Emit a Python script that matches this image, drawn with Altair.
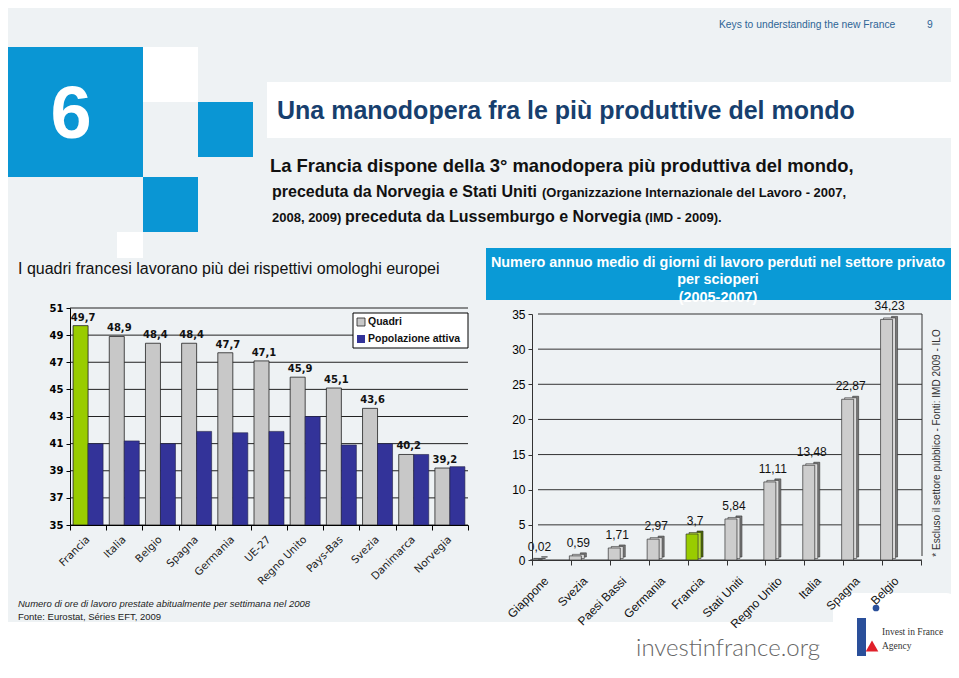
import altair as alt
import pandas as pd

# ---------------- data ----------------
left_cats = ["Francia", "Italia", "Belgio", "Spagna", "Germania", "UE-27",
             "Regno Unito", "Pays-Bas", "Svezia", "Danimarca", "Norvegia"]
quadri = [49.7, 48.9, 48.4, 48.4, 47.7, 47.1, 45.9, 45.1, 43.6, 40.2, 39.2]
popolazione = [41.0, 41.2, 41.0, 41.9, 41.8, 41.9, 43.0, 40.9, 41.0, 40.2, 39.3]
left_ticks = [35, 37, 39, 41, 43, 45, 47, 49, 51]

right_cats = ["Giappone", "Svezia", "Paesi Bassi", "Germania", "Francia",
              "Stati Uniti", "Regno Unito", "Italia", "Spagna", "Belgio"]
giorni = [0.02, 0.59, 1.71, 2.97, 3.7, 5.84, 11.11, 13.48, 22.87, 34.23]
right_ticks = [0, 5, 10, 15, 20, 25, 30, 35]

W, H = 943, 662
OX, OY = 8, 8  # page margin


def px(x):
    return x - OX


def py(y):
    return y - OY


dfL = pd.DataFrame({"cat": left_cats, "q": quadri, "p": popolazione,
                    "lab": [str(v).replace(".", ",") for v in quadri]})
dfR = pd.DataFrame({"cat": right_cats, "v": giorni,
                    "lab": [str(v).replace(".", ",") for v in giorni]})
gL = pd.DataFrame({"q": left_ticks})
gR = pd.DataFrame({"v": right_ticks})
one = pd.DataFrame({"k": [0]})

SANS = "Liberation Sans, Arial, sans-serif"
VERD = "DejaVu Sans, Verdana, sans-serif"
BLUE = "#0a96d4"
GREEN = "#99cc00"

base = alt.Chart(one)


def rect(x1, x2, y1, y2, color, **kw):
    return base.mark_rect(color=color, **kw).encode(
        x=alt.value(px(x1)), x2=alt.value(px(x2)),
        y=alt.value(py(y1)), y2=alt.value(py(y2)))


def txt(s, x, y, size, color="#111111", font=SANS, weight="normal",
        align="left", baseline="alphabetic", **kw):
    return base.mark_text(text=s, fontSize=size, color=color, font=font,
                          fontWeight=weight, align=align, baseline=baseline, **kw
                          ).encode(x=alt.value(px(x)), y=alt.value(py(y)))


decor = [
    rect(0, 960, 622, 680, "white"),
    rect(833, 960, 593, 680, "white", cornerRadius=14),
    rect(0, 143, 47, 177, BLUE),
    rect(143, 198, 47, 102, "white"),
    rect(198, 253, 102, 157, BLUE),
    rect(143, 198, 177, 232, BLUE),
    rect(117, 143, 232, 258, "white"),
    rect(267, 960, 82, 138, "white"),
    txt("6", 71, 116, 74, "white", SANS, "bold", "center", "middle"),
    txt("Keys to understanding the new France", 719, 28, 10.3, "#2f6596", SANS),
    txt("9", 927, 28, 10.3, "#2f6596", SANS),
    txt("Una manodopera fra le più produttive del mondo", 277, 119, 25,
        "#173f6e", SANS, "bold"),
    txt("La Francia dispone della 3° manodopera più produttiva del mondo,",
        270, 172, 18.4, "#111111", SANS, "bold"),
    txt("preceduta da Norvegia e Stati Uniti", 272, 197, 16, "#111111", SANS, "bold"),
    txt("(Organizzazione Internazionale del Lavoro - 2007,", 542, 197, 13,
        "#111111", SANS, "bold"),
    txt("2008, 2009)", 272, 222, 13, "#111111", SANS, "bold"),
    txt("preceduta da Lussemburgo e Norvegia", 345, 222, 16, "#111111", SANS, "bold"),
    txt("(IMD - 2009).", 645, 222, 13, "#111111", SANS, "bold"),
    # left chart title & notes
    txt("I quadri francesi lavorano più dei rispettivi omologhi europei",
        18, 274, 16, "#111111", SANS),
    txt("Numero di ore di lavoro prestate abitualmente per settimana nel 2008",
        18, 607, 9.5, "#222222", SANS, fontStyle="italic"),
    txt("Fonte: Eurostat, Séries EFT, 2009", 18, 620, 9.5, "#222222", SANS),
    # right chart title box
    rect(486, 951, 248, 300, "#0a9ad6"),
    txt("Numero annuo medio di giorni di lavoro perduti nel settore privato",
        718, 267, 14.4, "white", SANS, "bold", "center"),
    txt("per scioperi", 718, 284, 14.4, "white", SANS, "bold", "center"),
    txt("(2005-2007)", 718, 302, 14.4, "white", SANS, "bold", "center"),
    txt("* Escluso il settore pubblico - Fonti: IMD 2009 - ILO", 937, 443, 10,
        "#333333", SANS, "normal", "center", "middle", angle=270),
    # footer
    txt("investinfrance.org", 728, 656, 24, "#666666", "Lato, Open Sans, sans-serif",
        300, "center"),
    rect(857, 866, 618, 656, "#2a4f9a"),
    txt("Invest in France", 882, 635, 9.5, "#333333", "Liberation Serif, serif"),
    txt("Agency", 882, 649, 9.5, "#333333", "Liberation Serif, serif"),
    base.mark_point(shape="triangle-up", filled=True, color="#e0202a", size=160,
                    opacity=1).encode(x=alt.value(px(872)), y=alt.value(py(646))),
    base.mark_circle(color="#2a4f9a", size=45, opacity=1).encode(
        x=alt.value(px(876)), y=alt.value(py(608))),
]

# ---------------- left chart ----------------
xL = alt.X("cat:N", sort=left_cats, title=None,
           scale=alt.Scale(domain=left_cats, range=[px(70), px(468)],
                           paddingInner=0, paddingOuter=0),
           axis=alt.Axis(orient="bottom", offset=-(H - py(525)), labelAngle=-45,
                         labelFont=VERD, labelFontSize=10.5, labelColor="#222222",
                         tickBand="extent", tickSize=5, tickColor="black",
                         domainColor="black", labelPadding=4, labelOffset=-4,
                         grid=False, zindex=1))
ysL = alt.Scale(domain=[35, 51], range=[py(525), py(308)], zero=False, nice=False)
axL = alt.Axis(orient="left", offset=-px(70), values=left_ticks, labelFont=VERD,
               labelFontSize=10, labelFontWeight="bold", labelColor="black",
               tickColor="black", domainColor="black", tickSize=4, grid=False,
               labelPadding=3, zindex=1)


def yL(field):
    return alt.Y(f"{field}:Q", scale=ysL, axis=axL, title=None)


lgrid = alt.Chart(gL).mark_rule(color="#222222", strokeWidth=1).encode(
    y=yL("q"), x=alt.value(px(70)), x2=alt.value(px(468)))
lgray = alt.Chart(dfL).mark_bar(width=15, xOffset=-7.5, stroke="#222222",
                                strokeWidth=0.8).encode(
    x=xL, y=yL("q"), y2=alt.datum(35),
    color=alt.condition(alt.datum.cat == "Francia", alt.value(GREEN),
                        alt.value("#c8c8c8")))
lblue = alt.Chart(dfL).mark_bar(width=15, xOffset=7.5, color="#333399",
                                stroke="#222244", strokeWidth=0.6).encode(
    x=xL, y=yL("p"), y2=alt.datum(35))
llab = alt.Chart(dfL).mark_text(font=VERD, fontSize=10, fontWeight="bold",
                                color="#111111", baseline="bottom", dy=-3,
                                xOffset=-5).encode(
    x=xL, y=yL("q"), text="lab:N")

left_legend = [
    rect(353, 468, 313, 348, "white", stroke="black", strokeWidth=1),
    rect(357, 365, 318, 326, "#c8c8c8", stroke="#222222", strokeWidth=0.8),
    rect(357, 365, 335, 343, "#333399"),
    txt("Quadri", 368, 322, 10.5, "#111111", SANS, "bold", baseline="middle"),
    txt("Popolazione attiva", 368, 339, 10.5, "#111111", SANS, "bold",
        baseline="middle"),
]

left = alt.layer(lgrid, lgray, lblue, llab)

# ---------------- right chart ----------------
xR = alt.X("cat:N", sort=right_cats, title=None,
           scale=alt.Scale(domain=right_cats, range=[px(532), px(921)],
                           paddingInner=0, paddingOuter=0),
           axis=alt.Axis(orient="bottom", offset=-(H - py(560)), labelAngle=-45,
                         labelFont=SANS, labelFontSize=12, labelColor="#111111",
                         tickBand="extent", tickSize=5, tickColor="#333333",
                         domainColor="#333333", labelPadding=10, labelOffset=-9,
                         grid=False, zindex=1))
ysR = alt.Scale(domain=[0, 35], range=[py(560), py(314)], nice=False)
axR = alt.Axis(orient="left", offset=-px(532), values=right_ticks, labelFont=SANS,
               labelFontSize=12, labelColor="black", tickColor="#333333",
               domainColor="#333333", tickSize=4, grid=False, labelPadding=3,
               zindex=1)


def yR(field):
    return alt.Y(f"{field}:Q", scale=ysR, axis=axR, title=None)


rgrid = alt.Chart(gR).mark_rule(color="#333333", strokeWidth=1).encode(
    y=yR("v"), x=alt.value(px(538)), x2=alt.value(px(922)))
rborder = base.mark_rule(color="#333333", strokeWidth=1).encode(
    x=alt.value(px(922)), y=alt.value(py(314)), y2=alt.value(py(556)))
rside = alt.Chart(dfR).mark_bar(width=6, xOffset=-7, yOffset=-3, y2Offset=-3,
                                stroke="#333333", strokeWidth=0.6).encode(
    x=xR, y=yR("v"), y2=alt.datum(0),
    color=alt.condition(alt.datum.cat == "Francia", alt.value("#4d6b00"),
                        alt.value("#7c7c7c")))
rtop = alt.Chart(dfR).mark_bar(width=12, xOffset=-12, height=3, yOffset=-1.5,
                               stroke="#333333", strokeWidth=0.6).encode(
    x=xR, y=yR("v"),
    color=alt.condition(alt.datum.cat == "Francia", alt.value("#b5dd33"),
                        alt.value("#dcdcdc")))
rfront = alt.Chart(dfR).mark_bar(width=12, xOffset=-15, stroke="#333333",
                                 strokeWidth=0.7).encode(
    x=xR, y=yR("v"), y2=alt.datum(0),
    color=alt.condition(alt.datum.cat == "Francia", alt.value(GREEN),
                        alt.value("#cdcdcd")))
rlab = alt.Chart(dfR).mark_text(font=SANS, fontSize=12, color="#111111",
                                baseline="bottom", dy=-6, xOffset=-12).encode(
    x=xR, y=yR("v"), text="lab:N")

right = alt.layer(rgrid, rside, rtop, rfront, rlab)

chart = alt.layer(*decor, left, *left_legend, right, rborder).resolve_scale(
    x="independent", y="independent", color="independent"
).properties(
    width=W, height=H, padding=0, autosize=alt.AutoSizeParams(type="none")
).configure(background="#eef2f4").configure_view(stroke=None)

chart.save("out.html", embed_options={"renderer": "svg", "actions": False})
